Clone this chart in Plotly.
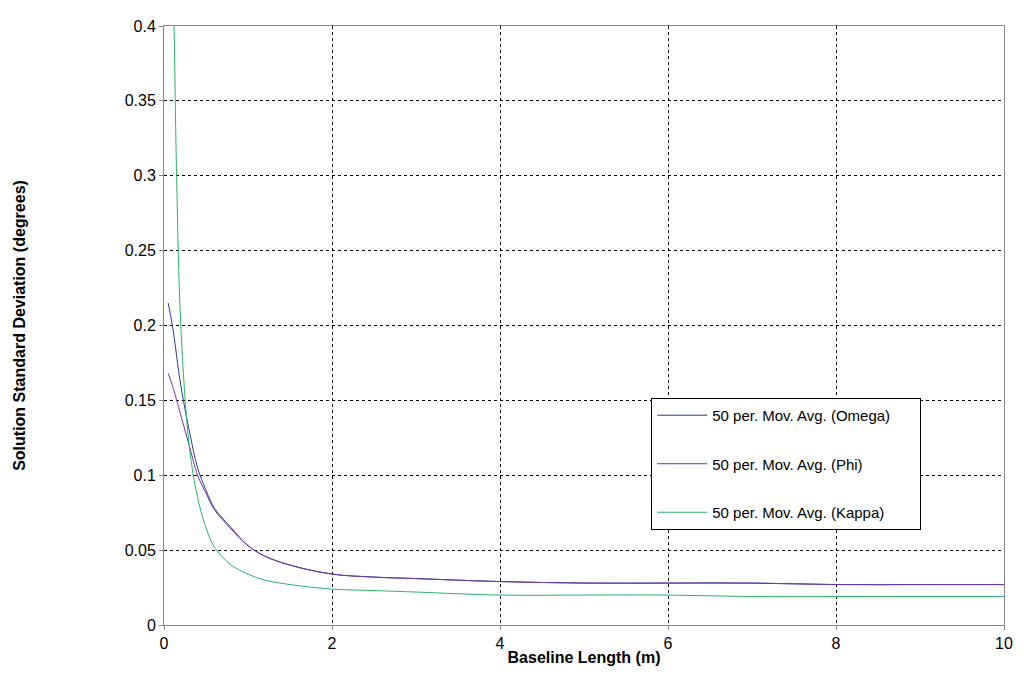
import plotly.graph_objects as go

x_main = [0.05,0.1,0.2,0.3,0.4,0.5,0.6,0.8,1.0,1.2,1.5,2,2.5,3,4,5,6,7,8,9,10]
omega = [0.215,0.2,0.16,0.13,0.105,0.09,0.078,0.065,0.053,0.046,0.04,0.034,0.032,0.031,0.029,0.028,0.028,0.028,0.027,0.027,0.027]
phi = [0.168,0.16,0.14,0.12,0.1,0.088,0.077,0.064,0.053,0.046,0.04,0.034,0.032,0.031,0.029,0.028,0.028,0.028,0.027,0.027,0.027]
x_kappa = [0.1,0.12,0.15,0.2,0.3,0.4,0.5,0.6,0.8,1.0,1.2,1.5,2,2.5,3,4,5,6,7,8,9,10]
kappa = [0.45,0.4,0.3,0.2,0.12,0.085,0.065,0.052,0.04,0.034,0.03,0.027,0.024,0.023,0.022,0.02,0.02,0.02,0.019,0.019,0.019,0.019]

fig = go.Figure()
fig.add_trace(go.Scatter(x=x_main, y=omega, mode="lines", name="50 per. Mov. Avg. (Omega)      ", legendgroup="a", line=dict(color="#2b3f8f", width=1, shape="spline")))
fig.add_trace(go.Scatter(x=x_main, y=phi, mode="lines", name="50 per. Mov. Avg. (Phi)", legendgroup="b", line=dict(color="#7034a8", width=1, shape="spline")))
fig.add_trace(go.Scatter(x=x_kappa, y=kappa, mode="lines", name="50 per. Mov. Avg. (Kappa)", legendgroup="c", line=dict(color="#2cb46a", width=1, shape="spline")))

axis_common = dict(showgrid=True, gridcolor="black", griddash="dot", gridwidth=1,
                   showline=True, linecolor="#888888", mirror=True, zeroline=False,
                   ticks="outside", tickcolor="#888888", ticklen=4,
                   tickfont=dict(family="Arial, Liberation Sans", size=16, color="black"))
fig.update_layout(
    width=1024, height=683, paper_bgcolor="white", plot_bgcolor="white",
    margin=dict(l=151, r=28, t=10, b=66),
    xaxis=dict(range=[0,10], dtick=2, title=dict(text="<b>Baseline Length (m)</b>", standoff=0,
               font=dict(family="Arial, Liberation Sans", size=16, color="black")), **axis_common),
    yaxis=dict(range=[0,0.4], dtick=0.05, title=dict(text="<b>Solution Standard Deviation (degrees)</b>", standoff=95,
               font=dict(family="Arial, Liberation Sans", size=16, color="black")), **axis_common),
    legend=dict(x=0.58, y=0.379, xanchor="left", yanchor="top", bordercolor="black", borderwidth=1,
                bgcolor="white", tracegroupgap=26, itemwidth=50,
                font=dict(family="Arial, Liberation Sans", size=15, color="black")),
    showlegend=True,
)
fig.write_html("out.html")
